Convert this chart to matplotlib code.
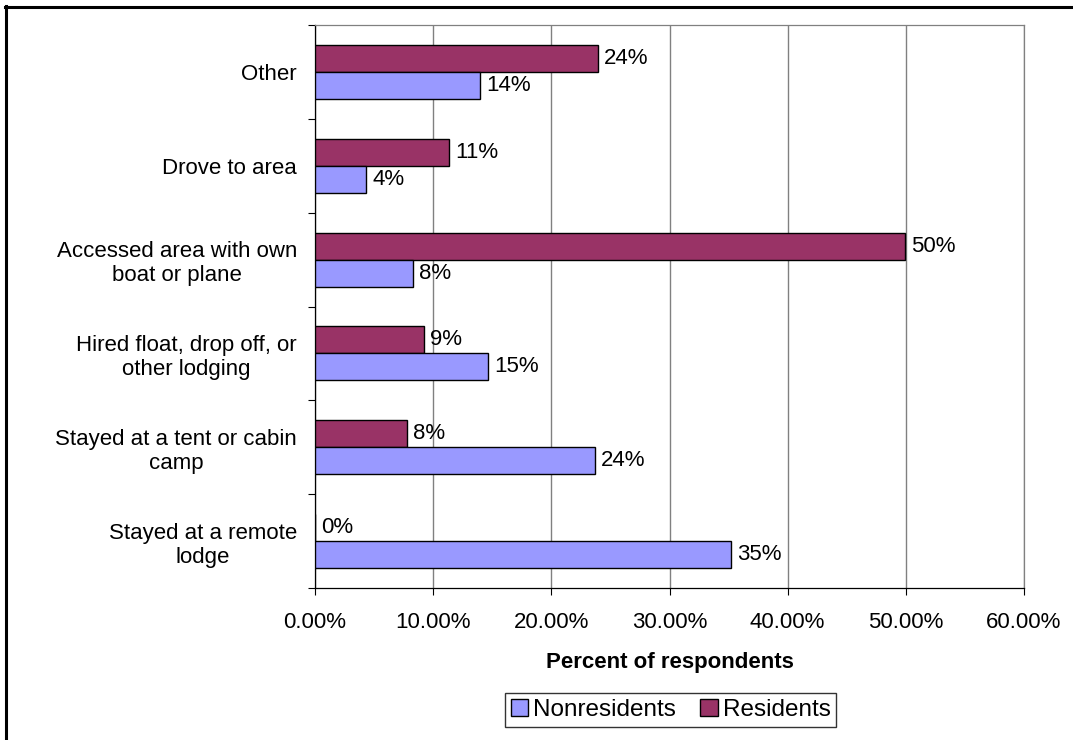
import numpy as np
import matplotlib
matplotlib.use("Agg")
import matplotlib.pyplot as plt
from matplotlib.lines import Line2D

plt.rcParams['font.family'] = ['Liberation Sans', 'DejaVu Sans']

# categories listed bottom to top
categories = ["Stayed at a remote\nlodge",
              "Stayed at a tent or cabin\ncamp",
              "Hired float, drop off, or\nother lodging",
              "Accessed area with own\nboat or plane",
              "Drove to area",
              "Other"]
nonresidents = [35.2, 23.7, 14.6, 8.3, 4.3, 14.0]
residents = [0.0, 7.8, 9.2, 49.9, 11.3, 23.95]
xticks = [0, 10, 20, 30, 40, 50, 60]

c_nonres = '#9999FF'
c_res = '#993366'
fs = 16

fig = plt.figure(figsize=(10.73, 7.40), dpi=100)
ax = fig.add_axes([315/1073, 1-588/740, (1024-315)/1073, (588-25)/740])

y = np.arange(len(categories))
h = 0.287
b_res = ax.barh(y + h/2, residents, height=h, color=c_res, edgecolor='black', linewidth=1.0, zorder=3)
b_non = ax.barh(y - h/2, nonresidents, height=h, color=c_nonres, edgecolor='black', linewidth=1.0, zorder=3)

for bars, vals in ((b_res, residents), (b_non, nonresidents)):
    for bar, v in zip(bars, vals):
        ax.annotate("%d%%" % round(v), (v, bar.get_y() + bar.get_height()/2),
                    xytext=(4.5, 0), textcoords='offset points',
                    ha='left', va='center', fontsize=fs, zorder=4)

ax.set_xlim(0, 60)
ax.set_ylim(-0.5, len(categories) - 0.5)

ax.set_xticks(xticks)
ax.set_xticklabels(["%.2f%%" % t for t in xticks], fontsize=fs)
ax.tick_params(axis='x', direction='out', length=5, width=0.8, pad=12)

ax.set_yticks(y)
ax.set_yticklabels(categories, fontsize=fs, multialignment='center')
ax.set_yticks(np.arange(len(categories) + 1) - 0.5, minor=True)
ax.tick_params(axis='y', which='major', length=0, pad=13)
ax.tick_params(axis='y', which='minor', direction='out', length=5, width=0.8)

ax.xaxis.grid(True, color='#808080', linewidth=1.0, zorder=0)
ax.set_axisbelow(True)
ax.spines['left'].set_color('black')
ax.spines['bottom'].set_color('black')
ax.spines['top'].set_color('#808080')
ax.spines['right'].set_color('#808080')
for s in ax.spines.values():
    s.set_linewidth(0.9)

ax.set_xlabel("Percent of respondents", fontsize=fs, fontweight='bold', labelpad=14)

handles = [plt.Rectangle((0, 0), 1, 1, facecolor=c_nonres, edgecolor='black', linewidth=1.0),
           plt.Rectangle((0, 0), 1, 1, facecolor=c_res, edgecolor='black', linewidth=1.0)]
leg = fig.legend(handles, ["Nonresidents", "Residents"], loc='center',
                 bbox_to_anchor=(670.5/1073, 1-710/740), ncol=2, fontsize=17.5,
                 frameon=True, fancybox=False, edgecolor='black',
                 handlelength=0.72, handleheight=0.72, handletextpad=0.2,
                 columnspacing=1.0, borderpad=0.25, borderaxespad=0)
leg.get_frame().set_linewidth(1.0)

# outer chart border (only top and left are visible in the frame)
fig.add_artist(Line2D([5/1073, 1.0], [1-7/740, 1-7/740], color='black', linewidth=2.2,
                      transform=fig.transFigure))
fig.add_artist(Line2D([6/1073, 6/1073], [0.0, 1-6/740], color='black', linewidth=2.2,
                      transform=fig.transFigure))

fig.savefig("out.png", dpi=100)
